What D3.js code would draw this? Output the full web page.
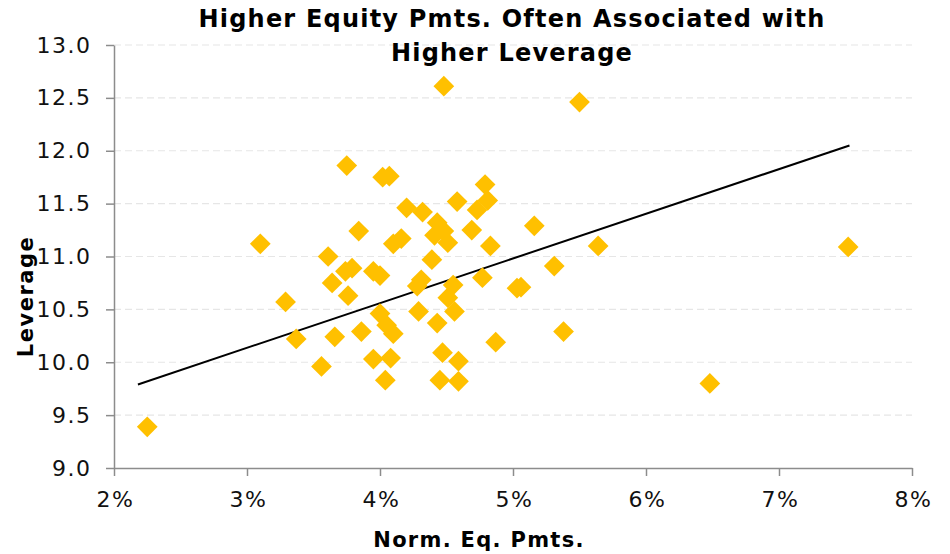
<!DOCTYPE html>
<html>
<head>
<meta charset="utf-8">
<script src="https://cdn.jsdelivr.net/npm/d3@7"></script>
<style>
  body { margin: 0; background: #fff; }
  svg { display: block; font-family: "DejaVu Sans", Verdana, sans-serif; }
</style>
</head>
<body>
<div id="chart"></div>
<script>
// Normalized equity payments (%) vs leverage, one entry per point
const eqPmts = [
  2.25, 3.10, 3.29, 3.37, 3.56, 3.61, 3.64, 3.66, 3.75, 3.76,
  3.74, 3.79, 3.84, 3.86, 3.95, 3.95, 4.00, 4.00, 4.02, 4.07,
  4.04, 4.05, 4.08, 4.10, 4.10, 4.16, 4.20, 4.28, 4.31, 4.29,
  4.32, 4.39, 4.43, 4.43, 4.41, 4.48, 4.51, 4.48, 4.45, 4.47,
  4.51, 4.55, 4.56, 4.58, 4.59, 4.59, 4.69, 4.73, 4.79, 4.81,
  4.77, 4.83, 4.87, 5.03, 5.06, 5.16, 5.31, 5.38, 5.50, 5.64,
  6.48, 7.52
];
const leverage = [
  9.39, 11.12, 10.57, 10.22, 9.96, 11.00, 10.75, 10.24, 11.86, 10.63,
  10.86, 10.89, 11.24, 10.29, 10.03, 10.86, 10.82, 10.46, 11.75, 11.76,
  9.83, 10.35, 10.04, 10.27, 11.12, 11.17, 11.46, 10.72, 10.78, 10.48,
  11.42, 10.97, 10.37, 11.32, 11.20, 11.24, 11.13, 12.61, 9.83, 10.09,
  10.61, 10.73, 10.48, 11.52, 10.01, 9.82, 11.25, 11.44, 11.68, 11.53,
  10.80, 11.10, 10.19, 10.70, 10.71, 11.29, 10.91, 10.29, 12.46, 11.10,
  9.80, 11.09
];

// linear trend line end points
const trendX = [2.18, 7.53];
const trendY = [9.79, 12.05];

const xTicks = [2, 3, 4, 5, 6, 7, 8];
const yTicks = [9.0, 9.5, 10.0, 10.5, 11.0, 11.5, 12.0, 12.5, 13.0];

const titleLines = ['Higher Equity Pmts. Often Associated with', 'Higher Leverage'];
const xTitle = 'Norm. Eq. Pmts.';
const yTitle = 'Leverage';

const W = 950, H = 554;
const plot = { left: 114, right: 912, top: 45, bottom: 468 };

const svg = d3.select('#chart').append('svg')
  .attr('width', W)
  .attr('height', H);

const x = d3.scaleLinear().domain([2, 8]).range([plot.left, plot.right]);
const y = d3.scaleLinear().domain([9, 13]).range([plot.bottom, plot.top]);

// gridlines
svg.append('g')
  .selectAll('line')
  .data(yTicks.filter(d => d > 9))
  .join('line')
  .attr('x1', plot.left)
  .attr('x2', plot.right)
  .attr('y1', d => y(d))
  .attr('y2', d => y(d))
  .attr('stroke', '#e6e6e6')
  .attr('stroke-width', 1.2)
  .attr('stroke-dasharray', '7,4');

// axes
const axisColor = '#8c8c8c';

const xAxis = svg.append('g')
  .attr('transform', `translate(0,${plot.bottom})`)
  .call(d3.axisBottom(x).tickValues(xTicks).tickSize(8).tickSizeOuter(0)
    .tickFormat(d => d + '%'));

const yAxis = svg.append('g')
  .attr('transform', `translate(${plot.left},0)`)
  .call(d3.axisLeft(y).tickValues(yTicks).tickSize(8).tickSizeOuter(0)
    .tickFormat(d3.format('.1f')));

[xAxis, yAxis].forEach(a => {
  a.select('.domain').attr('stroke', axisColor).attr('stroke-width', 1.5);
  a.selectAll('.tick line').attr('stroke', axisColor).attr('stroke-width', 1.5);
  a.selectAll('.tick text')
    .attr('fill', '#111')
    .style('font-size', '22px')
    .style('letter-spacing', '1.5px')
    .style('font-family', '"DejaVu Sans", Verdana, sans-serif');
});
xAxis.selectAll('.tick text').attr('dy', '1.1em').attr('y', 15).attr('dx', 1);
yAxis.selectAll('.tick text').attr('x', -22.5);

// trend line
svg.append('path')
  .datum(d3.zip(trendX, trendY))
  .attr('fill', 'none')
  .attr('stroke', '#000')
  .attr('stroke-width', 2)
  .attr('d', d3.line().x(d => x(d[0])).y(d => y(d[1])));

// points (rotated squares = Excel diamonds)
const diamond = d3.symbol().type(d3.symbolSquare).size(215);
svg.append('g')
  .selectAll('path')
  .data(d3.zip(eqPmts, leverage))
  .join('path')
  .attr('d', diamond)
  .attr('transform', d => `translate(${x(d[0])},${y(d[1])}) rotate(45)`)
  .attr('fill', '#FFC000');

// title
svg.append('text')
  .attr('text-anchor', 'middle')
  .attr('font-weight', 'bold')
  .attr('font-size', 24)
  .attr('letter-spacing', 1.2)
  .attr('fill', '#000')
  .selectAll('tspan')
  .data(titleLines)
  .join('tspan')
  .attr('x', 512)
  .attr('y', (d, i) => 27 + i * 33.5)
  .text(d => d);

// axis titles
svg.append('text')
  .attr('x', (plot.left + plot.right) / 2 - 34)
  .attr('y', 547)
  .attr('text-anchor', 'middle')
  .attr('font-weight', 'bold')
  .attr('font-size', 21)
  .attr('letter-spacing', 1.3)
  .text(xTitle);

svg.append('text')
  .attr('transform', `translate(33,${(plot.top + plot.bottom) / 2 + 40}) rotate(-90)`)
  .attr('text-anchor', 'middle')
  .attr('font-weight', 'bold')
  .attr('font-size', 21)
  .attr('letter-spacing', 1.5)
  .text(yTitle);
</script>
</body>
</html>
